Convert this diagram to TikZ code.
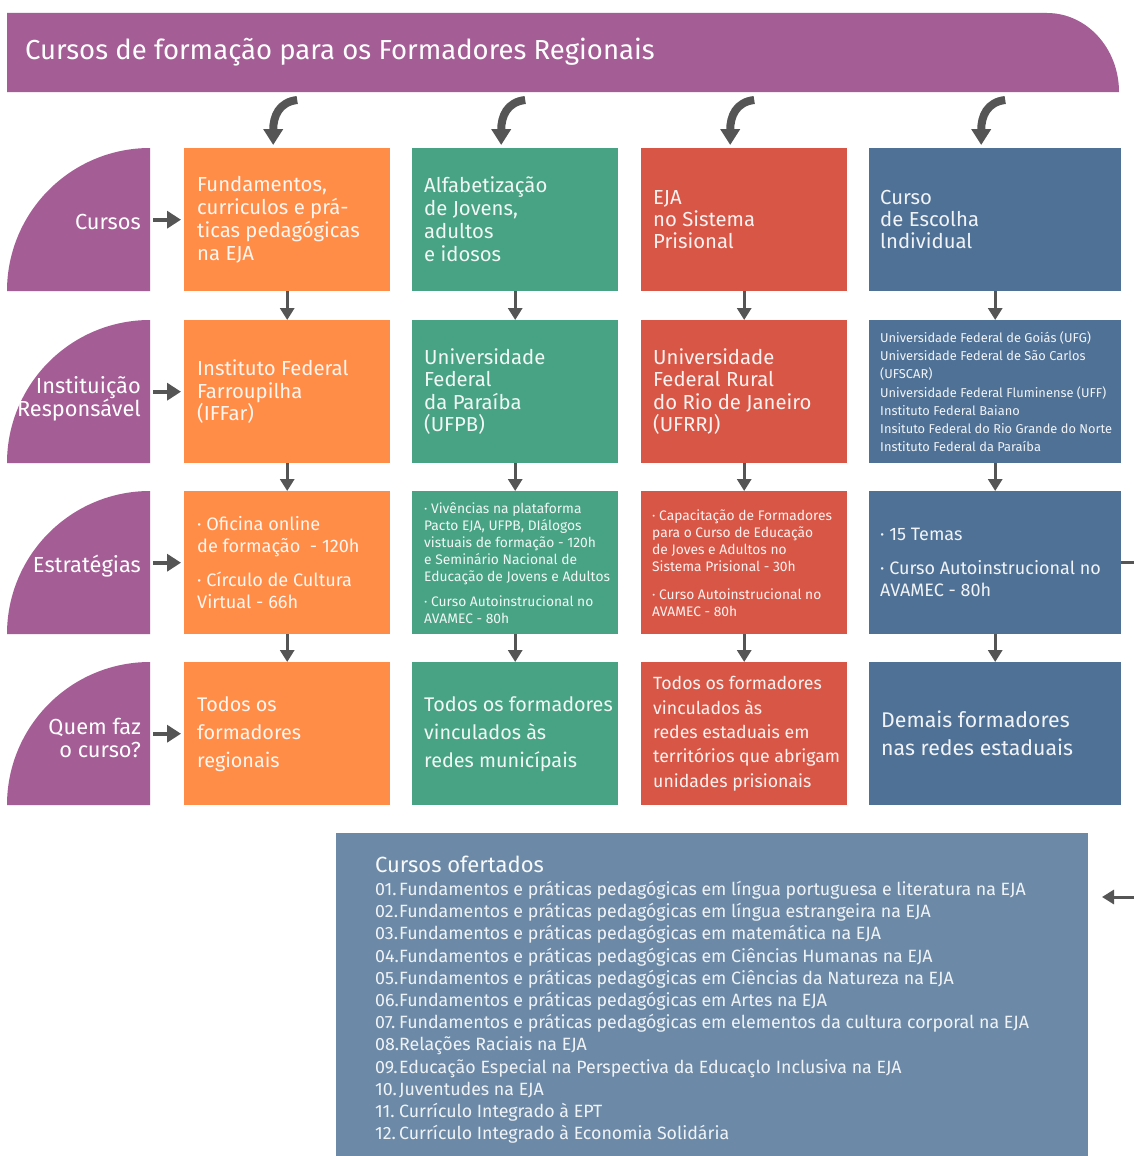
\documentclass[tikz,border=0pt]{standalone}
\usepackage{fontspec}
\setmainfont{Fira Sans}
\usetikzlibrary{arrows.meta}
\definecolor{cpurple}{RGB}{165,93,150}
\definecolor{corange}{RGB}{255,141,72}
\definecolor{cgreen}{RGB}{72,163,132}
\definecolor{cred}{RGB}{215,86,70}
\definecolor{cblue}{RGB}{79,113,150}
\definecolor{cbot}{RGB}{108,138,167}
\definecolor{cgray}{RGB}{85,85,85}
\newcommand{\fs}[2]{\fontsize{#1}{#2}\selectfont}
\begin{document}
\begin{tikzpicture}[x=1pt,y=-1pt,
  box/.style={rectangle, inner sep=0pt, minimum width=206pt, minimum height=143pt, anchor=north west},
  wbox/.style={box, minimum width=252pt},
  txt/.style={anchor=west, align=left, inner sep=0pt, text=white, text opacity=0.92},
  tab/.style={anchor=east, align=right, inner sep=0pt, text=white, font=\fs{21.8}{23}},
  arr/.style={draw=cgray, line width=3pt, -{Triangle[width=14pt,length=12pt]}},
  tabarr/.style={draw=cgray, line width=4pt, -{Triangle[width=17pt,length=14pt]}},
  carr/.style={draw=cgray, line width=8pt, -{Triangle[width=19pt,length=16pt]}}]
\useasboundingbox (0,0) rectangle (1134,1156);
\fill[white] (0,0) rectangle (1134,1156);

% header
\fill[cpurple] (7,13) -- (1047,13) arc[start angle=90, end angle=0, x radius=72pt, y radius=79pt] -- (1119,92) -- (7,92) -- cycle;
\node[anchor=west, inner sep=0pt, text=white, font=\fs{27.5}{30}] (hdr) at (25,52) {Cursos de formação para os Formadores Regionais};

% tabs
\foreach \yb in {291,463,634,805}{
  \fill[cpurple] (150,\yb) -- (7,\yb) arc[start angle=180, end angle=90, radius=143pt] -- cycle;
}
\node[tab] (t1) at (141,222) {Cursos};
\node[tab] (t2) at (141,399) {Instituição\\Responsável};
\node[tab] (t3) at (141,566) {Estratégias};
\node[tab] (t4) at (141,738) {Quem faz\\o curso?};

% boxes
\node[box, fill=corange] (b11) at (184,148) {};
\node[box, fill=cgreen]  (b12) at (412,148) {};
\node[box, fill=cred]    (b13) at (641,148) {};
\node[wbox, fill=cblue]  (b14) at (869,148) {};
\node[box, fill=corange] (b21) at (184,320) {};
\node[box, fill=cgreen]  (b22) at (412,320) {};
\node[box, fill=cred]    (b23) at (641,320) {};
\node[wbox, fill=cblue]  (b24) at (869,320) {};
\node[box, fill=corange] (b31) at (184,491) {};
\node[box, fill=cgreen]  (b32) at (412,491) {};
\node[box, fill=cred]    (b33) at (641,491) {};
\node[wbox, fill=cblue]  (b34) at (869,491) {};
\node[box, fill=corange] (b41) at (184,662) {};
\node[box, fill=cgreen]  (b42) at (412,662) {};
\node[box, fill=cred]    (b43) at (641,662) {};
\node[wbox, fill=cblue]  (b44) at (869,662) {};

% texts row 1
\node[txt, font=\fs{20.3}{23}] (x11) at ([xshift=13pt]b11.west) {Fundamentos,\\curriculos e prá-\\ticas pedagógicas\\na EJA};
\node[txt, font=\fs{20.3}{23}] (x12) at ([xshift=12pt]b12.west) {Alfabetização\\de Jovens,\\adultos\\e idosos};
\node[txt, font=\fs{20.3}{22}] (x13) at ([xshift=12pt]b13.west) {EJA\\no Sistema\\Prisional};
\node[txt, font=\fs{20.3}{22}] (x14) at ([xshift=11pt]b14.west) {Curso\\de Escolha\\lndividual};
% row 2
\node[txt, font=\fs{20.3}{22.5}] (x21) at ([xshift=13pt]b21.west) {Instituto Federal\\Farroupilha\\(IFFar)};
\node[txt, font=\fs{20.3}{22.5}] (x22) at ([xshift=12pt]b22.west) {Universidade\\Federal\\da Paraíba\\(UFPB)};
\node[txt, font=\fs{20.3}{22.5}] (x23) at ([xshift=12pt]b23.west) {Universidade\\Federal Rural\\do Rio de Janeiro\\(UFRRJ)};
\node[txt, font=\fs{12.85}{18.2}] (x24) at ([xshift=11pt]b24.west) {Universidade Federal de Goiás (UFG)\\Universidade Federal de São Carlos\\(UFSCAR)\\Universidade Federal Fluminense (UFF)\\Instituto Federal Baiano\\Insituto Federal do Rio Grande do Norte\\Instituto Federal da Paraíba};
% row 3
\node[txt, font=\fs{18.1}{22}] (x31) at ([xshift=13pt]b31.west) {· Oficina online\\de formação\ \ - 120h\\[12pt]· Círculo de Cultura\\Virtual - 66h};
\node[txt, font=\fs{13.8}{17}] (x32) at ([xshift=12pt]b32.west) {· Vivências na plataforma\\Pacto EJA, UFPB, DIálogos\\vistuais de formação - 120h\\e Seminário Nacional de\\Educação de Jovens e Adultos\\[8pt]· Curso Autoinstrucional no\\AVAMEC - 80h};
\node[txt, font=\fs{13.8}{17}] (x33) at ([xshift=11pt]b33.west) {· Capacitação de Formadores\\para o Curso de Educação\\de Joves e Adultos no\\Sistema Prisional - 30h\\[11pt]· Curso Autoinstrucional no\\AVAMEC - 80h};
\node[txt, font=\fs{18}{22}] (x34) at ([xshift=11pt]b34.west) {· 15 Temas\\[12pt]· Curso Autoinstrucional no\\AVAMEC - 80h};
% row 4
\node[txt, font=\fs{19.8}{28}] (x41) at ([xshift=13pt]b41.west) {Todos os\\formadores\\regionais};
\node[txt, font=\fs{19.8}{28}] (x42) at ([xshift=12pt]b42.west) {Todos os formadores\\vinculados às\\redes municípais};
\node[txt, font=\fs{17.7}{24.3}] (x43) at ([xshift=12pt]b43.west) {Todos os formadores\\vinculados às\\redes estaduais em\\territórios que abrigam\\unidades prisionais};
\node[txt, font=\fs{21.3}{28}] (x44) at ([xshift=12pt]b44.west) {Demais formadores\\nas redes estaduais};

% curved arrows from header
\foreach \b in {b11,b12,b13,b14}{
  \draw[carr] ([xshift=10pt,yshift=48pt]\b.north) .. controls ([xshift=-8pt,yshift=46pt]\b.north) and ([xshift=-14pt,yshift=32pt]\b.north) .. ([xshift=-14pt,yshift=3pt]\b.north);
}

% tab arrows
\foreach \t/\b in {1/b11,2/b21,3/b31,4/b41}{
  \coordinate (ta\t) at ([xshift=-31pt]\b.west);
  \draw[tabarr] (ta\t) -- ([xshift=-3pt]\b.west);
}

% vertical arrows
\foreach \c in {1,2,3,4}{
  \draw[arr] (b1\c.south) -- (b2\c.north);
  \draw[arr] (b2\c.south) -- (b3\c.north);
  \draw[arr] (b3\c.south) -- (b4\c.north);
}

% bottom box
\node[anchor=north west, inner sep=0pt, minimum width=752pt, minimum height=323pt, fill=cbot] (bot) at (336,833) {};
\node[anchor=north west, inner sep=0pt, text=white, text opacity=0.95, font=\fs{22}{24}] (bt) at (375,856) {Cursos ofertados};
\node[anchor=north west, inner sep=0pt, align=left, text=white, text opacity=0.9, font=\fs{17.8}{22.2}] (bl) at (375,881) {%
\makebox[24pt][l]{01.}Fundamentos e práticas pedagógicas em língua portuguesa e literatura na EJA\\
\makebox[24pt][l]{02.}Fundamentos e práticas pedagógicas em língua estrangeira na EJA\\
\makebox[24pt][l]{03.}Fundamentos e práticas pedagógicas em matemática na EJA\\
\makebox[24pt][l]{04.}Fundamentos e práticas pedagógicas em Ciências Humanas na EJA\\
\makebox[24pt][l]{05.}Fundamentos e práticas pedagógicas em Ciências da Natureza na EJA\\
\makebox[24pt][l]{06.}Fundamentos e práticas pedagógicas em Artes na EJA\\
\makebox[24pt][l]{07.}Fundamentos e práticas pedagógicas em elementos da cultura corporal na EJA\\
\makebox[24pt][l]{08.}Relações Raciais na EJA\\
\makebox[24pt][l]{09.}Educação Especial na Perspectiva da Educaçlo Inclusiva na EJA\\
\makebox[24pt][l]{10.}Juventudes na EJA\\
\makebox[24pt][l]{11.}Currículo Integrado à EPT\\
\makebox[24pt][l]{12.}Currículo Integrado à Economia Solidária};

% connector from b34 around to bottom box
\coordinate (botin) at (1102,897);
\draw[arr] (b34.east) -- ++(40,0) |- (botin);
\end{tikzpicture}
\end{document}
